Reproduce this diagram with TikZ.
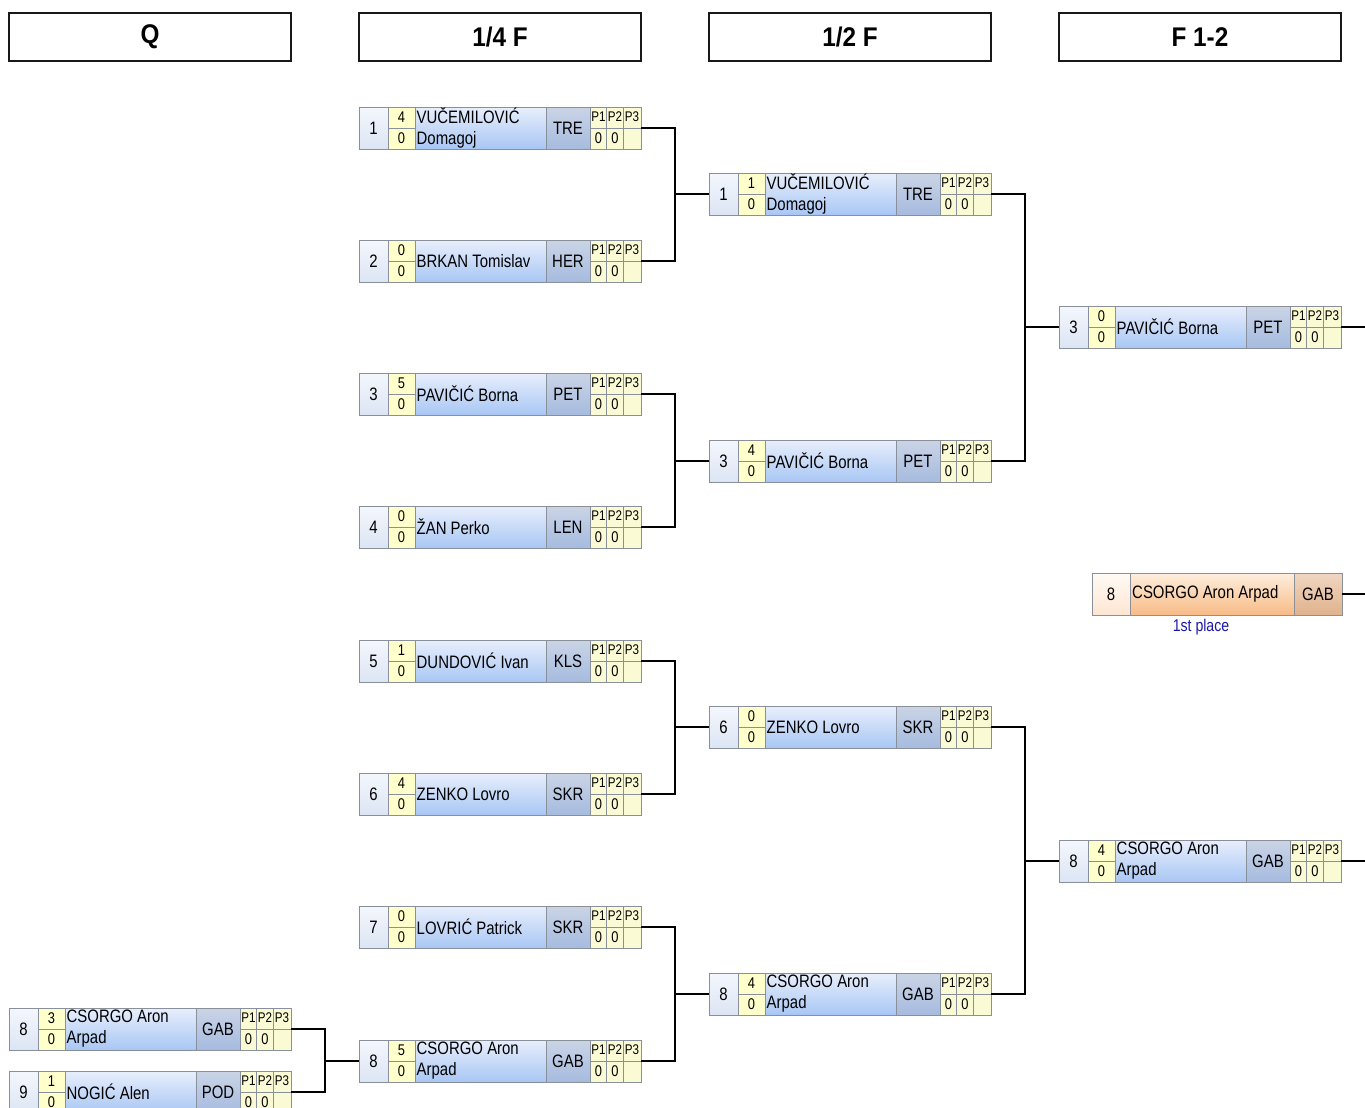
\documentclass[tikz,border=0pt]{standalone}
\usepackage{fontspec}
\setmainfont{Liberation Sans}
\newfontfamily\nfont[FakeStretch=0.83]{Liberation Sans}
\newfontfamily\hfont[FakeStretch=0.9]{Liberation Sans}
\definecolor{seedT}{HTML}{F4F7FD}
\definecolor{seedB}{HTML}{DCE5F4}
\definecolor{nameT}{HTML}{E8EFFC}
\definecolor{nameB}{HTML}{A8C6F4}
\definecolor{clubT}{HTML}{CAD4E6}
\definecolor{clubB}{HTML}{A6BBDF}
\definecolor{scfill}{HTML}{FFFFCC}
\definecolor{pfill}{HTML}{FAFAD4}
\definecolor{bordc}{HTML}{8A9099}
\definecolor{oseedT}{HTML}{FFFAF5}
\definecolor{oseedB}{HTML}{FDE6D2}
\definecolor{onameT}{HTML}{FEEEDD}
\definecolor{onameB}{HTML}{F8BB86}
\definecolor{oclubT}{HTML}{F0D6C2}
\definecolor{oclubB}{HTML}{E0B28C}
\definecolor{placeblue}{HTML}{1A1AA8}
\tikzset{
  pboxframe/.style={draw=bordc, line width=1pt, minimum width=282pt, minimum height=42pt, inner sep=0pt, outer sep=0pt},
  obox/.style={draw=bordc, line width=1pt, minimum width=250pt, minimum height=42pt, inner sep=0pt, outer sep=0pt},
  grid/.style={draw=bordc, line width=0.8pt},
  txt/.style={inner sep=0pt, font=\nfont\fontsize{18}{21}\selectfont},
  nm/.style={inner sep=1pt, align=left, anchor=west, font=\nfont\fontsize{18}{21}\selectfont},
  sc/.style={inner sep=0pt, font=\nfont\fontsize{15.5}{18}\selectfont},
  pl/.style={inner sep=0pt, font=\nfont\fontsize{14}{16}\selectfont},
  hdr/.style={draw=black!90, line width=2.8pt, minimum width=282pt, minimum height=48pt, inner sep=0pt, font=\hfont\bfseries\fontsize{27}{30}\selectfont},
  conn/.style={draw=black, line width=1.5pt},
}
% #1 id, #2 x, #3 y, #4 seed, #5 s1, #6 s2, #7 name, #8 club
\newcommand\pbox[8]{%
  \begin{scope}[shift={(#2,#3)}]
    \shade[top color=seedT,bottom color=seedB] (0,0) rectangle (29,42);
    \fill[scfill] (29,0) rectangle (56,42);
    \shade[top color=nameT,bottom color=nameB] (56,0) rectangle (187,42);
    \shade[top color=clubT,bottom color=clubB] (187,0) rectangle (231,42);
    \fill[pfill] (231,0) rectangle (282,42);
    \path[grid] (29,0)--(29,42) (56,0)--(56,42) (187,0)--(187,42) (231,0)--(231,42)
      (29,21)--(56,21) (231,21)--(282,21) (247.5,0)--(247.5,42) (264.5,0)--(264.5,42);
    \node[pboxframe] (#1) at (141,21) {};
    \node[txt] (#1-seed) at (14.5,21) {#4};
    \node[sc] (#1-s1) at (42.5,10.5) {#5};
    \node[sc] (#1-s2) at (42.5,31.5) {#6};
    \node[nm] (#1-name) at (56.5,21) {#7};
    \node[txt] (#1-club) at (209,21) {#8};
    \node[pl] (#1-p1) at (239.5,10) {P1};
    \node[pl] (#1-p2) at (256,10) {P2};
    \node[pl] (#1-p3) at (273,10) {P3};
    \node[sc] (#1-v1) at (239.5,31.5) {0};
    \node[sc] (#1-v2) at (256,31.5) {0};
  \end{scope}}
\begin{document}
\begin{tikzpicture}[x=1pt,y=-1pt]
\useasboundingbox (0,0) rectangle (1365,1108);
\clip (0,0) rectangle (1365,1108);
\fill[white] (0,0) rectangle (1365,1108);
% headers
\node[hdr] (hq) at (150,37) {Q};
\node[hdr] (hqf) at (500,37) {1/4 F};
\node[hdr] (hsf) at (850,37) {1/2 F};
\node[hdr] (hf) at (1200,37) {F 1-2};
% Q
\pbox{q8}{9}{1008}{8}{3}{0}{CSORGO Aron\\Arpad}{GAB}
\pbox{q9}{9}{1071}{9}{1}{0}{NOGIĆ Alen}{POD}
% 1/4 F
\pbox{qf1}{359}{107}{1}{4}{0}{VUČEMILOVIĆ\\Domagoj}{TRE}
\pbox{qf2}{359}{240}{2}{0}{0}{BRKAN Tomislav}{HER}
\pbox{qf3}{359}{373}{3}{5}{0}{PAVIČIĆ Borna}{PET}
\pbox{qf4}{359}{506}{4}{0}{0}{ŽAN Perko}{LEN}
\pbox{qf5}{359}{640}{5}{1}{0}{DUNDOVIĆ Ivan}{KLS}
\pbox{qf6}{359}{773}{6}{4}{0}{ZENKO Lovro}{SKR}
\pbox{qf7}{359}{906}{7}{0}{0}{LOVRIĆ Patrick}{SKR}
\pbox{qf8}{359}{1040}{8}{5}{0}{CSORGO Aron\\Arpad}{GAB}
% 1/2 F
\pbox{sf1}{709}{173}{1}{1}{0}{VUČEMILOVIĆ\\Domagoj}{TRE}
\pbox{sf2}{709}{440}{3}{4}{0}{PAVIČIĆ Borna}{PET}
\pbox{sf3}{709}{706}{6}{0}{0}{ZENKO Lovro}{SKR}
\pbox{sf4}{709}{973}{8}{4}{0}{CSORGO Aron\\Arpad}{GAB}
% F
\pbox{f1}{1059}{306}{3}{0}{0}{PAVIČIĆ Borna}{PET}
\pbox{f2}{1059}{840}{8}{4}{0}{CSORGO Aron\\Arpad}{GAB}
% winner
\begin{scope}[shift={(1092,573)}]
  \shade[top color=oseedT,bottom color=oseedB] (0,0) rectangle (38,42);
  \shade[top color=onameT,bottom color=onameB] (38,0) rectangle (202,42);
  \shade[top color=oclubT,bottom color=oclubB] (202,0) rectangle (250,42);
  \path[grid] (38,0)--(38,42) (202,0)--(202,42);
  \node[obox] (win) at (125,21) {};
  \node[txt] (win-seed) at (19,21) {8};
  \node[txt, anchor=west] (win-name) at (40,21) {CSORGO Aron Arpad};
  \node[txt] (win-club) at (226,21) {GAB};
\end{scope}
\node[inner sep=0pt, text=placeblue, font=\nfont\fontsize{17}{20}\selectfont] (place) at (1201,627) {1st place};
% free ends
\coordinate (e1) at (1365,327);
\coordinate (e2) at (1365,861);
\coordinate (e3) at (1365,594);
% connectors
\draw[conn] (q8.east) -- ++(34,0) |- (q9.east);
\draw[conn] (qf8.west) -- ++(-34,0);
\draw[conn] (qf1.east) -- ++(34,0) |- (qf2.east);
\draw[conn] (sf1.west) -- ++(-34,0);
\draw[conn] (qf3.east) -- ++(34,0) |- (qf4.east);
\draw[conn] (sf2.west) -- ++(-34,0);
\draw[conn] (qf5.east) -- ++(34,0) |- (qf6.east);
\draw[conn] (sf3.west) -- ++(-34,0);
\draw[conn] (qf7.east) -- ++(34,0) |- (qf8.east);
\draw[conn] (sf4.west) -- ++(-34,0);
\draw[conn] (sf1.east) -- ++(34,0) |- (sf2.east);
\draw[conn] (f1.west) -- ++(-34,0);
\draw[conn] (sf3.east) -- ++(34,0) |- (sf4.east);
\draw[conn] (f2.west) -- ++(-34,0);
\draw[conn] (f1.east) -- (e1);
\draw[conn] (f2.east) -- (e2);
\draw[conn] (win.east) -- (e3);
\end{tikzpicture}
\end{document}
